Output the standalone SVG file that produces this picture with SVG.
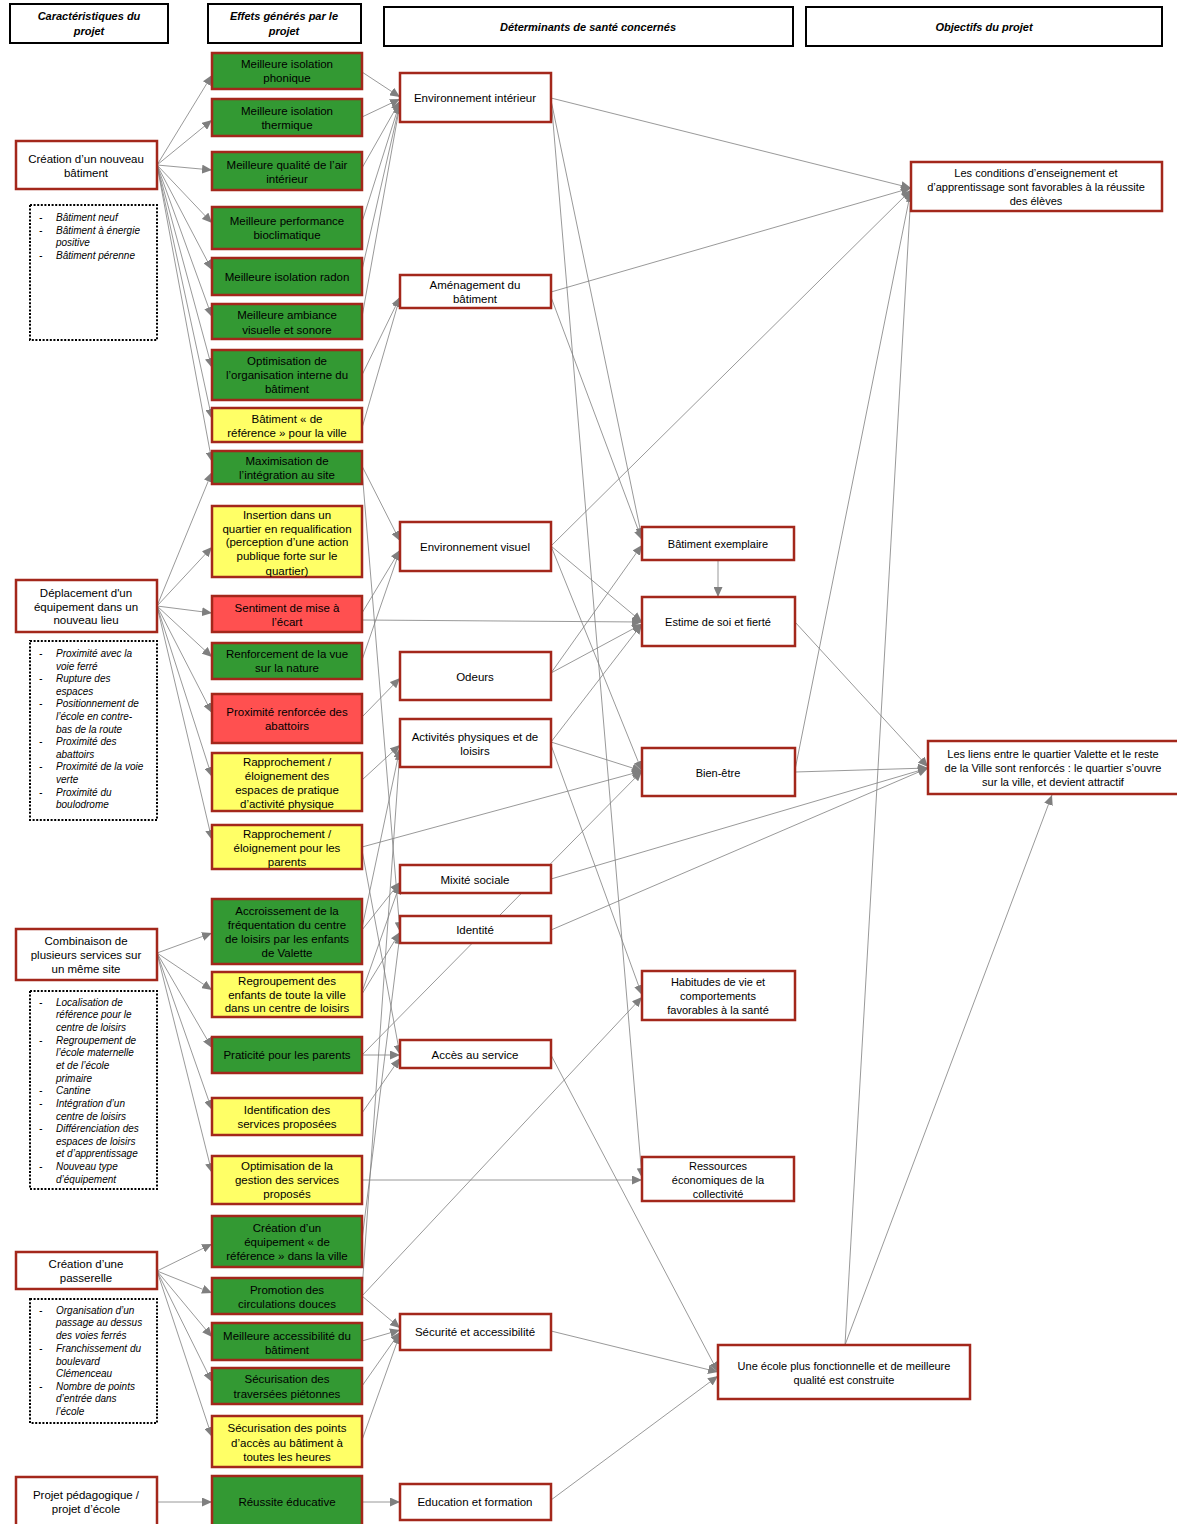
<svg xmlns="http://www.w3.org/2000/svg" width="1177" height="1524" viewBox="0 0 1177 1524">
<style>
text{font-family:"Liberation Sans",Arial,sans-serif;font-size:11.5px;fill:#000;text-anchor:middle}
.h rect{fill:#fff;stroke:#000;stroke-width:2}
.h text{font-weight:bold;font-style:italic;font-size:11px}
.n rect{stroke:#A3271B;stroke-width:2.5}
.w rect{fill:#fff}
.g rect{fill:#339933}
.y rect{fill:#FFFF66}
.r rect{fill:#FF5050}
.s text{font-size:11px}
.d rect{fill:#fff;stroke:#000;stroke-width:2;stroke-dasharray:2 1.6}
.d text{font-style:italic;font-size:10px;text-anchor:start}
#conn line{stroke:#7f7f7f;stroke-width:0.8;marker-end:url(#ah)}
</style>
<defs>
<marker id="ah" markerUnits="userSpaceOnUse" markerWidth="11" markerHeight="9" refX="10" refY="4.5" orient="auto">
<path d="M0,0 L10,4.5 L0,9 z" fill="#7f7f7f"/>
</marker>
</defs>
<rect width="1177" height="1524" fill="#fff"/>

<g id="conn">
<!-- L1 -->
<line x1="157" y1="165" x2="212" y2="75"/>
<line x1="157" y1="165" x2="212" y2="120"/>
<line x1="157" y1="165" x2="212" y2="170"/>
<line x1="157" y1="165" x2="212" y2="223"/>
<line x1="157" y1="165" x2="212" y2="270"/>
<line x1="157" y1="165" x2="212" y2="317"/>
<line x1="157" y1="165" x2="212" y2="368"/>
<line x1="157" y1="165" x2="212" y2="419"/>
<line x1="157" y1="165" x2="212" y2="462"/>
<!-- L2 -->
<line x1="157" y1="606" x2="212" y2="472"/>
<line x1="157" y1="606" x2="212" y2="547"/>
<line x1="157" y1="606" x2="212" y2="613"/>
<line x1="157" y1="606" x2="212" y2="657"/>
<line x1="157" y1="606" x2="212" y2="713"/>
<line x1="157" y1="606" x2="212" y2="777"/>
<line x1="157" y1="606" x2="212" y2="840"/>
<!-- L3 -->
<line x1="157" y1="953" x2="212" y2="933"/>
<line x1="157" y1="953" x2="212" y2="990"/>
<line x1="157" y1="953" x2="212" y2="1048"/>
<line x1="157" y1="953" x2="212" y2="1110"/>
<line x1="157" y1="953" x2="212" y2="1173"/>
<!-- L4 -->
<line x1="157" y1="1271" x2="212" y2="1244"/>
<line x1="157" y1="1271" x2="212" y2="1293"/>
<line x1="157" y1="1271" x2="212" y2="1337"/>
<line x1="157" y1="1271" x2="212" y2="1382"/>
<line x1="157" y1="1271" x2="212" y2="1437"/>
<!-- L5 -->
<line x1="157" y1="1502" x2="212" y2="1502"/>
<!-- effects -> determinants -->
<line x1="362" y1="72" x2="400" y2="97"/>
<line x1="362" y1="117" x2="400" y2="99"/>
<line x1="362" y1="168" x2="400" y2="101"/>
<line x1="362" y1="222" x2="400" y2="102"/>
<line x1="362" y1="270" x2="400" y2="103"/>
<line x1="362" y1="317" x2="400" y2="104"/>
<line x1="362" y1="375" x2="400" y2="297"/>
<line x1="362" y1="428" x2="400" y2="297"/>
<line x1="362" y1="466" x2="400" y2="541"/>
<line x1="362" y1="470" x2="400" y2="932"/>
<line x1="362" y1="613" x2="400" y2="550"/>
<line x1="362" y1="660" x2="400" y2="550"/>
<line x1="362" y1="717" x2="400" y2="678"/>
<line x1="362" y1="780" x2="400" y2="745"/>
<line x1="362" y1="850" x2="400" y2="1055"/>
<line x1="362" y1="928" x2="400" y2="748"/>
<line x1="362" y1="930" x2="400" y2="882"/>
<line x1="362" y1="992" x2="400" y2="884"/>
<line x1="362" y1="994" x2="400" y2="932"/>
<line x1="362" y1="1055" x2="400" y2="1055"/>
<line x1="362" y1="1113" x2="400" y2="1058"/>
<line x1="362" y1="1240" x2="400" y2="934"/>
<line x1="362" y1="1290" x2="400" y2="750"/>
<line x1="362" y1="1296" x2="400" y2="1328"/>
<line x1="362" y1="1341" x2="400" y2="1330"/>
<line x1="362" y1="1386" x2="400" y2="1332"/>
<line x1="362" y1="1440" x2="400" y2="1334"/>
<line x1="362" y1="1502" x2="400" y2="1502"/>
<!-- effects -> right -->
<line x1="362" y1="620" x2="642" y2="622"/>
<line x1="362" y1="847" x2="642" y2="771"/>
<line x1="362" y1="1055" x2="642" y2="771"/>
<line x1="362" y1="1180" x2="642" y2="1180"/>
<line x1="362" y1="1296" x2="642" y2="997"/>
<!-- determinants -> right -->
<line x1="551" y1="98" x2="911" y2="188"/>
<line x1="551" y1="100" x2="642" y2="538"/>
<line x1="551" y1="98" x2="642" y2="1178"/>
<line x1="551" y1="292" x2="911" y2="188"/>
<line x1="551" y1="297" x2="642" y2="540"/>
<line x1="551" y1="546" x2="911" y2="190"/>
<line x1="551" y1="546" x2="642" y2="622"/>
<line x1="551" y1="546" x2="642" y2="771"/>
<line x1="551" y1="673" x2="642" y2="545"/>
<line x1="551" y1="673" x2="642" y2="624"/>
<line x1="551" y1="742" x2="642" y2="624"/>
<line x1="551" y1="742" x2="642" y2="771"/>
<line x1="551" y1="745" x2="642" y2="995"/>
<line x1="551" y1="879" x2="928" y2="768"/>
<line x1="551" y1="930" x2="928" y2="768"/>
<line x1="551" y1="1055" x2="718" y2="1372"/>
<line x1="551" y1="1331" x2="718" y2="1372"/>
<line x1="551" y1="1500" x2="718" y2="1376"/>
<!-- right -> objectives -->
<line x1="718" y1="560" x2="718" y2="597"/>
<line x1="795" y1="622" x2="928" y2="767"/>
<line x1="795" y1="772" x2="928" y2="768"/>
<line x1="795" y1="770" x2="911" y2="190"/>
<line x1="845" y1="1345" x2="911" y2="192"/>
<line x1="845" y1="1345" x2="1052" y2="795"/>
</g>

<!-- headers -->
<g id="h1" class="h"><rect x="10" y="4" width="158" height="39"/><text x="89" y="20">Caractéristiques du</text><text x="89" y="35">projet</text></g>
<g id="h2" class="h"><rect x="208" y="4" width="153" height="39"/><text x="284" y="20">Effets générés par le</text><text x="284" y="35">projet</text></g>
<g id="h3" class="h"><rect x="384" y="7" width="409" height="39"/><text x="588" y="31">Déterminants de santé concernés</text></g>
<g id="h4" class="h"><rect x="806" y="7" width="356" height="39"/><text x="984" y="31">Objectifs du projet</text></g>

<!-- left column -->
<g id="l1" class="n w"><rect x="16" y="141" width="141" height="48"/><text x="86" y="163">Création d’un nouveau</text><text x="86" y="177">bâtiment</text></g>
<g id="l2" class="n w"><rect x="16" y="580" width="141" height="52"/><text x="86" y="597">Déplacement d'un</text><text x="86" y="611">équipement dans un</text><text x="86" y="624">nouveau lieu</text></g>
<g id="l3" class="n w"><rect x="16" y="929" width="141" height="51"/><text x="86" y="945">Combinaison de</text><text x="86" y="959">plusieurs services sur</text><text x="86" y="973">un même site</text></g>
<g id="l4" class="n w"><rect x="16" y="1252" width="141" height="37"/><text x="86" y="1268">Création d’une</text><text x="86" y="1282">passerelle</text></g>
<g id="l5" class="n w"><rect x="16" y="1477" width="141" height="55"/><text x="86" y="1499">Projet pédagogique /</text><text x="86" y="1513">projet d’école</text></g>

<g id="d1" class="d"><rect x="30" y="205" width="127" height="135"/>
<text x="39" y="221">-</text><text x="56" y="221">Bâtiment neuf</text>
<text x="39" y="234">-</text><text x="56" y="234">Bâtiment à énergie</text><text x="56" y="246">positive</text>
<text x="39" y="259">-</text><text x="56" y="259">Bâtiment pérenne</text></g>
<g id="d2" class="d"><rect x="30" y="641" width="127" height="179"/>
<text x="39" y="657">-</text><text x="56" y="657">Proximité avec la</text><text x="56" y="670">voie ferré</text>
<text x="39" y="682">-</text><text x="56" y="682">Rupture des</text><text x="56" y="695">espaces</text>
<text x="39" y="707">-</text><text x="56" y="707">Positionnement de</text><text x="56" y="720">l’école en contre-</text><text x="56" y="733">bas de la route</text>
<text x="39" y="745">-</text><text x="56" y="745">Proximité des</text><text x="56" y="758">abattoirs</text>
<text x="39" y="770">-</text><text x="56" y="770">Proximité de la voie</text><text x="56" y="783">verte</text>
<text x="39" y="796">-</text><text x="56" y="796">Proximité du</text><text x="56" y="808">boulodrome</text></g>
<g id="d3" class="d"><rect x="30" y="991" width="127" height="198"/>
<text x="39" y="1006">-</text><text x="56" y="1006">Localisation de</text><text x="56" y="1018">référence pour le</text><text x="56" y="1031">centre de loisirs</text>
<text x="39" y="1044">-</text><text x="56" y="1044">Regroupement de</text><text x="56" y="1056">l’école maternelle</text><text x="56" y="1069">et de l’école</text><text x="56" y="1082">primaire</text>
<text x="39" y="1094">-</text><text x="56" y="1094">Cantine</text>
<text x="39" y="1107">-</text><text x="56" y="1107">Intégration d’un</text><text x="56" y="1120">centre de loisirs</text>
<text x="39" y="1132">-</text><text x="56" y="1132">Différenciation des</text><text x="56" y="1145">espaces de loisirs</text><text x="56" y="1157">et d’apprentissage</text>
<text x="39" y="1170">-</text><text x="56" y="1170">Nouveau type</text><text x="56" y="1183">d’équipement</text></g>
<g id="d4" class="d"><rect x="30" y="1299" width="127" height="124"/>
<text x="39" y="1314">-</text><text x="56" y="1314">Organisation d’un</text><text x="56" y="1326">passage au dessus</text><text x="56" y="1339">des voies ferrés</text>
<text x="39" y="1352">-</text><text x="56" y="1352">Franchissement du</text><text x="56" y="1365">boulevard</text><text x="56" y="1377">Clémenceau</text>
<text x="39" y="1390">-</text><text x="56" y="1390">Nombre de points</text><text x="56" y="1402">d’entrée dans</text><text x="56" y="1415">l’école</text></g>

<!-- effects -->
<g id="e1" class="n g"><rect x="212" y="53" width="150" height="36"/><text x="287" y="68">Meilleure isolation</text><text x="287" y="82">phonique</text></g>
<g id="e2" class="n g"><rect x="212" y="99" width="150" height="37"/><text x="287" y="115">Meilleure isolation</text><text x="287" y="129">thermique</text></g>
<g id="e3" class="n g"><rect x="212" y="152" width="150" height="38"/><text x="287" y="169">Meilleure qualité de l’air</text><text x="287" y="183">intérieur</text></g>
<g id="e4" class="n g"><rect x="212" y="207" width="150" height="42"/><text x="287" y="225">Meilleure performance</text><text x="287" y="239">bioclimatique</text></g>
<g id="e5" class="n g"><rect x="212" y="258" width="150" height="37"/><text x="287" y="281">Meilleure isolation radon</text></g>
<g id="e6" class="n g"><rect x="212" y="304" width="150" height="35"/><text x="287" y="319">Meilleure ambiance</text><text x="287" y="334">visuelle et sonore</text></g>
<g id="e7" class="n g"><rect x="212" y="350" width="150" height="50"/><text x="287" y="365">Optimisation de</text><text x="287" y="379">l’organisation interne du</text><text x="287" y="393">bâtiment</text></g>
<g id="e8" class="n y"><rect x="212" y="408" width="150" height="34"/><text x="287" y="423">Bâtiment « de</text><text x="287" y="437">référence » pour la ville</text></g>
<g id="e9" class="n g"><rect x="212" y="451" width="150" height="33"/><text x="287" y="465">Maximisation de</text><text x="287" y="479">l’intégration au site</text></g>
<g id="e10" class="n y"><rect x="212" y="506" width="150" height="71"/><text x="287" y="519">Insertion dans un</text><text x="287" y="533">quartier en requalification</text><text x="287" y="546">(perception d’une action</text><text x="287" y="560">publique forte sur le</text><text x="287" y="575">quartier)</text></g>
<g id="e11" class="n r"><rect x="212" y="596" width="150" height="36"/><text x="287" y="612">Sentiment de mise à</text><text x="287" y="626">l’écart</text></g>
<g id="e12" class="n g"><rect x="212" y="643" width="150" height="36"/><text x="287" y="658">Renforcement de la vue</text><text x="287" y="672">sur la nature</text></g>
<g id="e13" class="n r"><rect x="212" y="694" width="150" height="49"/><text x="287" y="716">Proximité renforcée des</text><text x="287" y="730">abattoirs</text></g>
<g id="e14" class="n y"><rect x="212" y="753" width="150" height="58"/><text x="287" y="766">Rapprochement /</text><text x="287" y="780">éloignement des</text><text x="287" y="794">espaces de pratique</text><text x="287" y="808">d’activité physique</text></g>
<g id="e15" class="n y"><rect x="212" y="825" width="150" height="44"/><text x="287" y="838">Rapprochement /</text><text x="287" y="852">éloignement pour les</text><text x="287" y="866">parents</text></g>
<g id="e16" class="n g"><rect x="212" y="899" width="150" height="65"/><text x="287" y="915">Accroissement de la</text><text x="287" y="929">fréquentation du centre</text><text x="287" y="943">de loisirs par les enfants</text><text x="287" y="957">de Valette</text></g>
<g id="e17" class="n y"><rect x="212" y="972" width="150" height="45"/><text x="287" y="985">Regroupement des</text><text x="287" y="999">enfants de toute la ville</text><text x="287" y="1012">dans un centre de loisirs</text></g>
<g id="e18" class="n g"><rect x="212" y="1037" width="150" height="36"/><text x="287" y="1059">Praticité pour les parents</text></g>
<g id="e19" class="n y"><rect x="212" y="1098" width="150" height="37"/><text x="287" y="1114">Identification des</text><text x="287" y="1128">services proposées</text></g>
<g id="e20" class="n y"><rect x="212" y="1156" width="150" height="48"/><text x="287" y="1170">Optimisation de la</text><text x="287" y="1184">gestion des services</text><text x="287" y="1198">proposés</text></g>
<g id="e21" class="n g"><rect x="212" y="1216" width="150" height="51"/><text x="287" y="1232">Création d’un</text><text x="287" y="1246">équipement « de</text><text x="287" y="1260">référence » dans la ville</text></g>
<g id="e22" class="n g"><rect x="212" y="1278" width="150" height="36"/><text x="287" y="1294">Promotion des</text><text x="287" y="1308">circulations douces</text></g>
<g id="e23" class="n g"><rect x="212" y="1323" width="150" height="37"/><text x="287" y="1340">Meilleure accessibilité du</text><text x="287" y="1354">bâtiment</text></g>
<g id="e24" class="n g"><rect x="212" y="1368" width="150" height="36"/><text x="287" y="1383">Sécurisation des</text><text x="287" y="1398">traversées piétonnes</text></g>
<g id="e25" class="n y"><rect x="212" y="1416" width="150" height="51"/><text x="287" y="1432">Sécurisation des points</text><text x="287" y="1447">d’accès au bâtiment à</text><text x="287" y="1461">toutes les heures</text></g>
<g id="e26" class="n g"><rect x="212" y="1476" width="150" height="56"/><text x="287" y="1506">Réussite éducative</text></g>

<!-- determinants -->
<g id="t1" class="n w"><rect x="400" y="73" width="151" height="49"/><text x="475" y="102">Environnement intérieur</text></g>
<g id="t2" class="n w"><rect x="400" y="275" width="151" height="33"/><text x="475" y="289">Aménagement du</text><text x="475" y="303">bâtiment</text></g>
<g id="t3" class="n w"><rect x="400" y="522" width="151" height="49"/><text x="475" y="551">Environnement visuel</text></g>
<g id="t4" class="n w"><rect x="400" y="652" width="151" height="48"/><text x="475" y="681">Odeurs</text></g>
<g id="t5" class="n w"><rect x="400" y="719" width="151" height="48"/><text x="475" y="741">Activités physiques et de</text><text x="475" y="755">loisirs</text></g>
<g id="t6" class="n w"><rect x="400" y="865" width="151" height="28"/><text x="475" y="884">Mixité sociale</text></g>
<g id="t7" class="n w"><rect x="400" y="916" width="151" height="27"/><text x="475" y="934">Identité</text></g>
<g id="t8" class="n w"><rect x="400" y="1040" width="151" height="28"/><text x="475" y="1059">Accès au service</text></g>
<g id="t9" class="n w"><rect x="400" y="1314" width="151" height="36"/><text x="475" y="1336">Sécurité et accessibilité</text></g>
<g id="t10" class="n w"><rect x="400" y="1484" width="151" height="36"/><text x="475" y="1506">Education et formation</text></g>

<!-- right column -->
<g id="r1" class="n w s"><rect x="642" y="527" width="152" height="33"/><text x="718" y="548">Bâtiment exemplaire</text></g>
<g id="r2" class="n w s"><rect x="642" y="597" width="153" height="49"/><text x="718" y="626">Estime de soi et fierté</text></g>
<g id="r3" class="n w s"><rect x="642" y="748" width="153" height="48"/><text x="718" y="777">Bien-être</text></g>
<g id="r4" class="n w s"><rect x="642" y="971" width="153" height="49"/><text x="718" y="986">Habitudes de vie et</text><text x="718" y="1000">comportements</text><text x="718" y="1014">favorables à la santé</text></g>
<g id="r5" class="n w s"><rect x="642" y="1157" width="152" height="44"/><text x="718" y="1170">Ressources</text><text x="718" y="1184">économiques de la</text><text x="718" y="1198">collectivité</text></g>

<!-- objectives -->
<g id="o1" class="n w s"><rect x="911" y="162" width="251" height="49"/><text x="1036" y="177">Les conditions d’enseignement et</text><text x="1036" y="191">d’apprentissage sont favorables à la réussite</text><text x="1036" y="205">des élèves</text></g>
<g id="o2" class="n w s"><rect x="928" y="741" width="252" height="53"/><text x="1053" y="758">Les liens entre le quartier Valette et le reste</text><text x="1053" y="772">de la Ville sont renforcés : le quartier s’ouvre</text><text x="1053" y="786">sur la ville, et devient attractif</text></g>
<g id="o3" class="n w s"><rect x="718" y="1345" width="252" height="54"/><text x="844" y="1370">Une école plus fonctionnelle et de meilleure</text><text x="844" y="1384">qualité est construite</text></g>
</svg>
